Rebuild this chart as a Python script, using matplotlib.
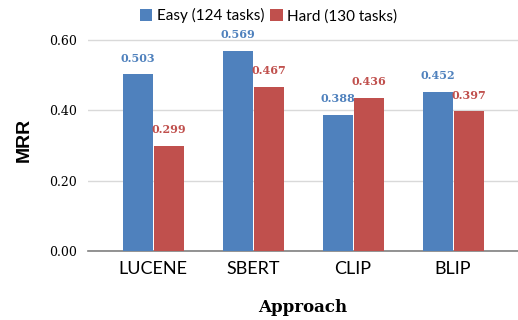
import numpy as np
import matplotlib
matplotlib.use("Agg")
import matplotlib.pyplot as plt

approaches = ["LUCENE", "SBERT", "CLIP", "BLIP"]
easy = [0.503, 0.569, 0.388, 0.452]
hard = [0.299, 0.467, 0.436, 0.397]
easy_label = "Easy (124 tasks)"
hard_label = "Hard (130 tasks)"
yticks = [0.0, 0.2, 0.4, 0.6]

azul = "#4F81BD"
vermelho = "#C0504D"

fig = plt.figure(figsize=(5.18, 3.2), dpi=100)
ax = fig.add_axes([0.17, 0.2156, 0.83, 0.6924])

x = np.arange(len(approaches))
w = 0.3
b1 = ax.bar(x - 0.155, easy, w, color=azul, label=easy_label, zorder=3)
b2 = ax.bar(x + 0.155, hard, w, color=vermelho, label=hard_label, zorder=3)

for i in range(len(approaches)):
    ax.text(x[i] - 0.155, easy[i] + 0.03, "%.3f" % easy[i], ha="center", va="bottom",
            color=azul, fontsize=8, fontweight="bold", family="DejaVu Serif")
    ax.text(x[i] + 0.155, hard[i] + 0.03, "%.3f" % hard[i], ha="center", va="bottom",
            color=vermelho, fontsize=8, fontweight="bold", family="DejaVu Serif")

ax.set_xlim(-0.65, 3.65)
ax.set_ylim(0, 0.63)
ax.set_yticks(yticks)
ax.set_yticklabels(["%.2f" % v for v in yticks], family="DejaVu Serif", fontsize=9)
ax.set_xticks(x)
ax.set_xticklabels(approaches, family="Lato", fontsize=13)
ax.tick_params(axis="both", length=0)
ax.tick_params(axis="x", pad=7)
ax.tick_params(axis="y", pad=8)
ax.grid(axis="y", color="#d9d9d9", linewidth=1, zorder=0)
for s in ["top", "right", "left"]:
    ax.spines[s].set_visible(False)
ax.spines["bottom"].set_color("#808080")
ax.spines["bottom"].set_linewidth(1.2)

ax.set_ylabel("MRR", family="Liberation Sans", fontweight="bold", fontsize=14, labelpad=12)
ax.set_xlabel("Approach", family="DejaVu Serif", fontweight="bold", fontsize=12, labelpad=16)

ax.legend(loc="lower center", bbox_to_anchor=(0.42, 1.0), ncol=2, frameon=False,
          prop={"family": "Lato", "size": 11}, handlelength=0.8, handleheight=0.8,
          handletextpad=0.3, columnspacing=0.4, borderaxespad=0)

fig.savefig("out.png", dpi=100)
